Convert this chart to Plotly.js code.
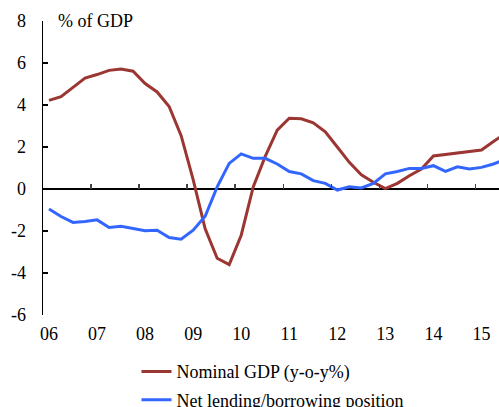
<!DOCTYPE html>
<html>
<head>
<meta charset="utf-8">
<script src="https://cdn.plot.ly/plotly-3.0.1.min.js"></script>
<style>html,body{margin:0;padding:0;background:#fff;}#chart{width:499px;height:407px;}</style>
</head>
<body>
<div id="chart"></div>
<script>
// Quarterly data, 2006Q1 .. 2015Q3 (x = quarter mid-points)
const quarters = [
  '2006Q1','2006Q2','2006Q3','2006Q4','2007Q1','2007Q2','2007Q3','2007Q4',
  '2008Q1','2008Q2','2008Q3','2008Q4','2009Q1','2009Q2','2009Q3','2009Q4',
  '2010Q1','2010Q2','2010Q3','2010Q4','2011Q1','2011Q2','2011Q3','2011Q4',
  '2012Q1','2012Q2','2012Q3','2012Q4','2013Q1','2013Q2','2013Q3','2013Q4',
  '2014Q1','2014Q2','2014Q3','2014Q4','2015Q1','2015Q2','2015Q3'
];
const nominalGDP = [
  4.22, 4.40, 4.84, 5.28, 5.45, 5.65, 5.71, 5.61,
  5.02, 4.62, 3.93, 2.54, 0.45, -1.90, -3.30, -3.60,
  -2.20, 0.10, 1.55, 2.80, 3.37, 3.34, 3.15, 2.72,
  2.00, 1.27, 0.68, 0.32, 0.02, 0.27, 0.63, 0.95,
  1.57, 1.65, 1.70, 1.78, 1.86, 2.26, 2.65
];
const netLending = [
  -0.95, -1.31, -1.59, -1.55, -1.47, -1.83, -1.78, -1.88,
  -1.99, -1.96, -2.31, -2.39, -1.96, -1.30, 0.10, 1.22,
  1.67, 1.46, 1.46, 1.19, 0.83, 0.72, 0.40, 0.27,
  -0.05, 0.11, 0.05, 0.27, 0.72, 0.83, 0.98, 0.98,
  1.11, 0.84, 1.06, 0.95, 1.03, 1.19, 1.42
];
const yearTicks = [2007, 2008, 2009, 2010, 2011, 2012, 2013, 2014, 2015];
const yearLabels = ['06','07','08','09','10','11','12','13','14','15'];
const yTickVals = [-6, -4, -2, 0, 2, 4, 6, 8];
const yTickText = ['-6', '-4', '-2', '0', '2', '4', '6', '8'];

const xOf = q => parseInt(q.slice(0, 4), 10) + (parseInt(q.slice(5), 10) - 0.5) / 4;
const xs = quarters.map(xOf);
const labelPos = yearLabels.map((l, i) => 2006 + i + 0.125);

const FONT = '"Liberation Serif", "Times New Roman", serif';
const xRange = [2006, 2006 + 456 / 48.05];

const traces = [
  {
    x: xs, y: nominalGDP, type: 'scatter', mode: 'lines',
    name: 'Nominal GDP (y-o-y%)',
    line: {color: '#9B3633', width: 3},
    legendgroup: 'a'
  },
  {
    x: xs, y: netLending, type: 'scatter', mode: 'lines',
    name: 'Net lending/borrowing position',
    line: {color: '#3366FF', width: 3},
    xaxis: 'x2', legendgroup: 'b'
  }
];

const layout = {
  width: 499, height: 407,
  margin: {l: 43, r: 0, t: 21, b: 92, autoexpand: false},
  paper_bgcolor: '#ffffff', plot_bgcolor: '#ffffff',
  font: {family: FONT, size: 18, color: '#000'},
  showlegend: true,
  legend: {
    orientation: 'v', x: 0.205, xanchor: 'left', y: -0.13, yanchor: 'top',
    font: {family: FONT, size: 18, color: '#000'},
    tracegroupgap: 2, bgcolor: 'rgba(0,0,0,0)'
  },
  xaxis: {
    range: xRange, showgrid: false, zeroline: false, showline: false,
    ticks: '', tickvals: labelPos, ticktext: yearLabels,
    tickfont: {family: FONT, size: 18, color: '#000'},
    ticklabelstandoff: 6, fixedrange: true
  },
  xaxis2: {
    range: xRange, overlaying: 'x', anchor: 'free', position: 6 / 14,
    side: 'bottom', showgrid: false, zeroline: false, showline: false,
    ticks: 'inside', ticklen: 5, tickwidth: 1.5, tickcolor: '#444',
    tickvals: yearTicks, showticklabels: false, fixedrange: true
  },
  yaxis: {
    range: [-6, 8], showgrid: false,
    zeroline: true, zerolinecolor: '#000', zerolinewidth: 1.5,
    showline: true, linecolor: '#000', linewidth: 1.5,
    ticks: 'inside', ticklen: 5, tickwidth: 1.2, tickcolor: '#000',
    tickvals: yTickVals, ticktext: yTickText,
    tickfont: {family: FONT, size: 18, color: '#000'},
    ticklabelstandoff: 12, fixedrange: true
  },
  annotations: [
    {
      text: '% of GDP', xref: 'paper', yref: 'paper', x: 0.028, y: 1.0,
      xanchor: 'left', yanchor: 'middle', showarrow: false,
      font: {family: FONT, size: 18, color: '#000'}
    }
  ]
};

Plotly.newPlot('chart', traces, layout, {displayModeBar: false, staticPlot: true});
</script>
</body>
</html>
